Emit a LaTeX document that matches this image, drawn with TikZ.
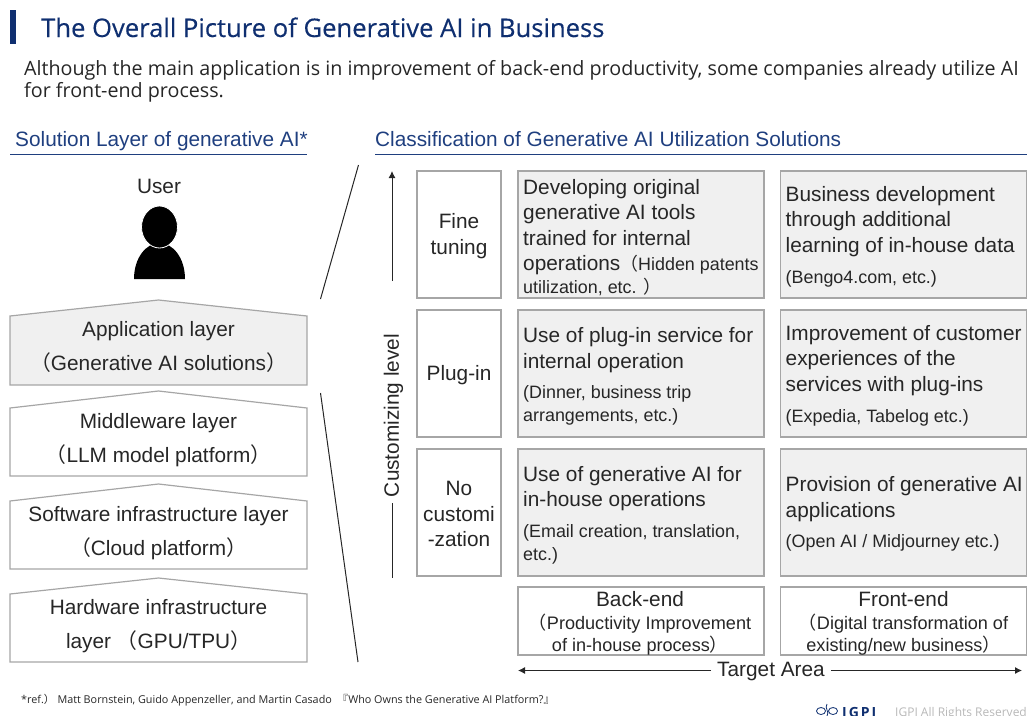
\documentclass[tikz,border=0pt]{standalone}
\usepackage{fontspec}
\setmainfont{Liberation Sans}
\newfontfamily\opensans{Open Sans}
\newfontfamily\opentitle[FakeBold=0.3]{Open Sans}
\newfontfamily\openwide[LetterSpace=14]{Open Sans}
\newfontfamily\cjkfont{Noto Sans CJK JP}
\usetikzlibrary{arrows.meta}
\definecolor{navy}{HTML}{0F2F70}
\definecolor{headblue}{HTML}{1F3F7F}
\definecolor{inktext}{HTML}{262626}
\definecolor{boxline}{HTML}{A6A6A6}
\definecolor{boxfill}{HTML}{F0F0F0}
\def\lpar{{\cjkfont （}}
\def\rpar{{\cjkfont ）}}
\def\layerhouse[#1](#2:#3:#4){\draw[#1] (10,#3) -- (10,#2) -- (158.5,#4) -- (307,#2) -- (307,#3) -- cycle;}
\tikzset{
	x=1pt, y=-1pt,
	cell/.style={draw=boxline, line width=1.4pt, inner sep=0pt, minimum height=127pt},
	opcell/.style={cell, fill=boxfill, minimum width=246pt},
	levelcell/.style={cell, fill=white, minimum width=84pt},
	leveltext/.style={inner sep=0pt, align=center, text=inktext, font=\fontsize{20.8}{25.5}\selectfont},
	areacell/.style={draw=boxline, line width=1.2pt, inner sep=0pt, minimum width=246pt, minimum height=68pt},
	bigtext/.style={anchor=north west, inner sep=0pt, align=left, text=inktext, font=\fontsize{20.8}{25.4}\selectfont},
	smalltext/.style={anchor=north west, inner sep=0pt, align=left, text=inktext, font=\fontsize{17.9}{23}\selectfont},
	layertext/.style={inner sep=0pt, align=center, text=inktext, font=\fontsize{20.8}{34}\selectfont},
	areatext/.style={inner sep=0pt, align=center, text=inktext, font=\fontsize{18.1}{22.5}\selectfont},
	heading/.style={anchor=base west, inner sep=0pt, text=headblue, font=\fontsize{20.8}{24}\selectfont},
	axisline/.style={line width=1pt, draw=inktext},
	axistip/.style={-{Latex[length=7pt,width=7pt]}},
}
\begin{document}
\begin{tikzpicture}
	\useasboundingbox (0,0) rectangle (1027,715);

	%%%%% HEADER %%%%%
	\fill[navy] (10,10) rectangle (15.5,44);
	\node[anchor=base west, inner sep=0pt, text=navy, font=\opentitle\fontsize{25.6}{30}\selectfont] (title) at (41,37) {The Overall Picture of Generative AI in Business};
	\node[anchor=base west, inner sep=0pt, text=inktext, font=\opensans\fontsize{19.7}{22}\selectfont, align=left] (intro) at (24,75) {Although the main application is in improvement of back-end productivity, some companies already utilize AI};
	\node[anchor=base west, inner sep=0pt, text=inktext, font=\opensans\fontsize{19.7}{22}\selectfont] (introtwo) at (24,97) {for front-end process.};

	\node[heading] (solutionhead) at (15,146.5) {Solution Layer of generative AI*};
	\draw[headblue, line width=1.1pt] (10,154.5) -- (307,154.5);
	\node[heading] (classhead) at (375,146.5) {Classification of Generative AI Utilization Solutions};
	\draw[headblue, line width=1.1pt] (375,154.5) -- (1027,154.5);

	%%%%% LEFT STACK %%%%%
	\node[layertext] (user) at (159,186) {User};
	\fill[black] (134,279) .. controls (134,258) and (146,243) .. (159.5,243) .. controls (173,243) and (185,258) .. (185,279) -- cycle;
	\draw[fill=black, draw=white, line width=0.8pt] (159.5,227) ellipse (18 and 21);

	\layerhouse[draw=boxline, line width=1.2pt, fill=boxfill](316:385:300)
	\layerhouse[draw=boxline, line width=1.2pt, fill=white](408:476:391)
	\layerhouse[draw=boxline, line width=1.2pt, fill=white](501:569:484)
	\layerhouse[draw=boxline, line width=1.2pt, fill=white](594:662:578)

	\node[layertext] (application) at (158.5,347) {Application layer\\\lpar Generative AI solutions\rpar};
	\node[layertext] (middleware) at (158.5,440.5) {Middleware layer\\\lpar LLM model platform\rpar};
	\node[layertext] (software) at (158.5,533) {Software infrastructure layer\\\lpar Cloud platform\rpar};
	\node[layertext] (hardware) at (158.5,626) {Hardware infrastructure\\layer \lpar GPU/TPU\rpar};

	\draw[line width=1pt, draw=inktext] (358.5,165) -- (320.5,299);
	\draw[line width=1pt, draw=inktext] (320.5,393) -- (358,662);

	%%%%% CUSTOMIZING AXIS %%%%%
	\coordinate (axistop) at (392,171);
	\coordinate (axisupper) at (392,281);
	\coordinate (axislower) at (392,503);
	\coordinate (axisbottom) at (392,578);
	\draw[axisline, axistip] (axisupper) -- (axistop);
	\draw[axisline] (axislower) -- (axisbottom);
	\node[rotate=90, inner sep=0pt, text=inktext, font=\fontsize{20.8}{24}\selectfont] (customizing) at (393.5,415.5) {Customizing level};

	%%%%% LEVEL CELLS %%%%%
	\node[levelcell] (finetuning) at (459,234.5) {};
	\node[levelcell] (plugin) at (459,373.5) {};
	\node[levelcell] (nocustom) at (459,512.5) {};
	\node[leveltext] (finetext) at (459,236) {Fine\\tuning};
	\node[leveltext] (plugtext) at (459,375) {Plug-in};
	\node[leveltext] (nonetext) at (459,514) {No\\customi\\-zation};

	%%%%% GREY CELLS %%%%%
	\node[opcell] (backfine) at (641,234.5) {};
	\node[opcell] (frontfine) at (903.5,234.5) {};
	\node[opcell] (backplug) at (641,373.5) {};
	\node[opcell] (frontplug) at (903.5,373.5) {};
	\node[opcell] (backnone) at (641,512.5) {};
	\node[opcell] (frontnone) at (903.5,512.5) {};

	\node[bigtext] (backfinetext) at (523,179) {Developing original\\generative AI tools\\trained for internal\\operations{\fontsize{17.9}{20}\selectfont\lpar Hidden patents}};
	\node[smalltext] (backfinenote) at (523,277.5) {utilization, etc. \rpar};
	\node[bigtext] (frontfinetext) at (785.5,186) {Business development\\through additional\\learning of in-house data};
	\node[smalltext] (frontfinenote) at (785.5,270) {(Bengo4.com, etc.)};

	\node[bigtext] (backplugtext) at (523,327.5) {Use of plug-in service for\\internal operation};
	\node[smalltext] (backplugnote) at (523,385) {(Dinner, business trip\\arrangements, etc.)};
	\node[bigtext] (frontplugtext) at (785.5,325) {Improvement of customer\\experiences of the\\services with plug-ins};
	\node[smalltext] (frontplugnote) at (785.5,409) {(Expedia, Tabelog etc.)};

	\node[bigtext] (backnonetext) at (523,466) {Use of generative AI for\\in-house operations};
	\node[smalltext] (backnonenote) at (523,524) {(Email creation, translation,\\etc.)};
	\node[bigtext] (frontnonetext) at (785.5,476.5) {Provision of generative AI\\applications};
	\node[smalltext] (frontnonenote) at (785.5,534) {(Open AI / Midjourney etc.)};

	%%%%% TARGET AREA %%%%%
	\node[areacell] (backend) at (641,621) {};
	\node[areacell] (frontend) at (903.5,621) {};
	\node[areatext] (backtext) at (640,623.5) {{\fontsize{20.8}{22.5}\selectfont Back-end}\\\lpar Productivity Improvement\\of in-house process\rpar};
	\node[areatext] (fronttext) at (903.5,623.5) {{\fontsize{20.8}{22.5}\selectfont Front-end}\\\lpar Digital transformation of\\existing/new business\rpar};

	\node[inner sep=0pt, text=inktext, font=\fontsize{20.8}{24}\selectfont] (target) at (771,671.5) {Target Area};
	\coordinate (targetleft) at (518,670.5);
	\coordinate (targetright) at (1022,670.5);
	\draw[axisline, axistip] (target.west) ++(-6,-1) -- (targetleft);
	\draw[axisline, axistip] (target.east) ++(6,-1) -- (targetright);

	%%%%% FOOTER %%%%%
	\node[anchor=base west, inner sep=0pt, text=inktext, font=\opensans\fontsize{10.8}{13}\selectfont] (reference) at (21,703) {*ref.{\cjkfont ）}\ Matt Bornstein, Guido Appenzeller, and Martin Casado\ \ {\cjkfont 『}Who Owns the Generative AI Platform?{\cjkfont 』}};
	\node[anchor=base west, inner sep=0pt, text=navy, font=\openwide\bfseries\fontsize{14}{15}\selectfont] (igpi) at (842,717) {IGPI};
	\node[anchor=base west, inner sep=0pt, text=boxline!80, font=\opensans\fontsize{12}{15}\selectfont] (rights) at (895,716) {IGPI All Rights Reserved};
	\draw[navy, line width=0.8pt] (821,711) ellipse (4.5 and 3.5);
	\draw[navy, line width=0.8pt] (833,711) ellipse (4.5 and 3.5);
	\draw[navy, line width=0.8pt] (827,704) .. controls (824,708) and (830,712) .. (827,716);
\end{tikzpicture}
\end{document}
